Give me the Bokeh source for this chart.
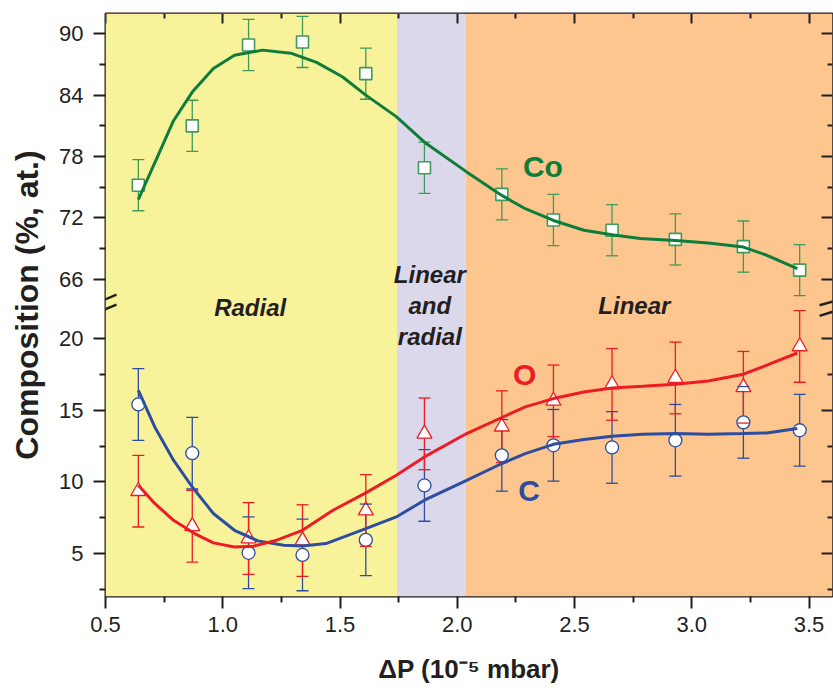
from bokeh.plotting import figure
from bokeh.models import (Range1d, LinearAxis, FixedTicker, ColumnDataSource,
                          Label, Arrow, PrintfTickFormatter, CustomJSTickFormatter)
from bokeh.embed import file_html
from bokeh.resources import INLINE

# ---------------- data ----------------
dp = [0.64, 0.87, 1.11, 1.34, 1.61, 1.86, 2.19, 2.41, 2.66, 2.93, 3.22, 3.46]

co = [75.2, 81.0, 88.9, 89.2, 86.1, 76.9, 74.3, 71.8, 70.8, 69.9, 69.2, 66.9]
co_err = [2.5, 2.5, 2.5, 2.5, 2.5, 2.5, 2.5, 2.5, 2.5, 2.5, 2.5, 2.5]

o = [9.35, 6.9, 6.05, 5.9, 8.0, 13.35, 13.85, 15.65, 16.8, 17.25, 16.6, 19.45]
o_err = [2.5, 2.5, 2.5, 2.5, 2.5, 2.5, 2.5, 2.5, 2.5, 2.5, 2.5, 2.5]

c = [15.4, 12.0, 5.05, 4.9, 5.95, 9.75, 11.85, 12.55, 12.4, 12.9, 14.15, 13.6]
c_err = [2.5, 2.5, 2.5, 2.5, 2.5, 2.5, 2.5, 2.5, 2.5, 2.5, 2.5, 2.5]

co_fit_x = [0.64, 0.72, 0.79, 0.87, 0.96, 1.05, 1.17, 1.29, 1.40, 1.51, 1.61, 1.74,
            1.86, 2.04, 2.19, 2.29, 2.41, 2.54, 2.66, 2.78, 2.93, 3.07, 3.22, 3.32, 3.45]
co_fit_y = [73.8, 77.9, 81.5, 84.3, 86.6, 87.9, 88.4, 88.1, 87.2, 85.8, 84.0, 81.9,
            79.4, 76.5, 74.2, 72.9, 71.75, 70.8, 70.35, 70.0, 69.8, 69.55, 69.15, 68.35, 67.05]

o_fit_x = [0.64, 0.71, 0.79, 0.88, 0.96, 1.05, 1.13, 1.23, 1.34, 1.47, 1.61, 1.74,
           1.86, 2.04, 2.19, 2.29, 2.41, 2.54, 2.66, 2.79, 2.93, 3.07, 3.22, 3.32, 3.45]
o_fit_y = [9.76, 8.49, 7.32, 6.39, 5.74, 5.46, 5.51, 5.93, 6.62, 8.02, 9.23, 10.46,
           11.74, 13.37, 14.49, 15.23, 15.81, 16.27, 16.55, 16.67, 16.81, 17.04, 17.51, 18.14, 18.99]

c_fit_x = [0.64, 0.71, 0.79, 0.87, 0.96, 1.05, 1.15, 1.26, 1.34, 1.44, 1.61, 1.74,
           1.86, 2.04, 2.19, 2.29, 2.41, 2.54, 2.66, 2.79, 2.93, 3.07, 3.22, 3.32, 3.45]
c_fit_y = [16.39, 13.83, 11.51, 9.64, 7.79, 6.62, 5.88, 5.58, 5.53, 5.69, 6.74, 7.55,
           8.72, 10.11, 11.28, 11.97, 12.62, 12.95, 13.18, 13.32, 13.37, 13.32, 13.37, 13.41, 13.72]

band_names = ["Radial", "Linear and radial", "Linear"]
band_left = [0.5, 1.743, 2.036]
band_right = [1.743, 2.036, 3.6]

x_ticks = [0.5, 1.0, 1.5, 2.0, 2.5, 3.0, 3.5]
x_minor = [0.75, 1.25, 1.75, 2.25, 2.75, 3.25]
lo_ticks = [5, 10, 15, 20]
lo_minor = [2.5, 7.5, 12.5, 17.5]
hi_ticks = [66, 72, 78, 84, 90]
hi_minor = [69, 75, 81, 87]

# ---------------- style ----------------
FONT = "Liberation Sans"
INK = "#231f20"
band_colors = ["#f8f39a", "#dbd8ec", "#fcc68e"]
GREEN, GREEN_M = "#0e7d3c", "#3f9a5c"
RED = "#ed1c24"
BLUE = "#2e4d9f"

X_START, X_END = 0.5, 3.6
LO_START, LO_END = 2.0, 42.68      # lower (C, O) scale over the whole frame
HI_START, HI_END = 35.0, 91.98     # upper (Co) scale over the whole frame
BREAK_LO = 22.5                    # top of the lower part, in lower units


def hi_to_lo(v):
    return LO_START + (v - HI_START) * (LO_END - LO_START) / (HI_END - HI_START)


p = figure(width=833, height=688, output_backend="svg", toolbar_location=None,
           x_range=Range1d(X_START, X_END), y_range=Range1d(LO_START, LO_END),
           min_border_left=105, min_border_right=1, min_border_top=13, min_border_bottom=92,
           background_fill_color="white", border_fill_color="white")
p.extra_y_ranges = {"hi": Range1d(HI_START, HI_END)}
p.grid.visible = False
p.outline_line_color = INK
p.outline_line_width = 2

band_src = ColumnDataSource(dict(left=band_left, right=band_right, color=band_colors, name=band_names))
p.quad(left="left", right="right", bottom=LO_START, top=LO_END, fill_color="color",
       line_color=None, source=band_src)


def style_axis(ax, t_in, t_out, m_in, m_out, labels=True):
    ax.axis_line_color = None
    ax.major_tick_line_color = INK
    ax.minor_tick_line_color = INK
    ax.major_tick_line_width = 2
    ax.minor_tick_line_width = 2
    ax.major_tick_in, ax.major_tick_out = t_in, t_out
    ax.minor_tick_in, ax.minor_tick_out = m_in, m_out
    ax.major_label_text_font = FONT
    ax.major_label_text_font_size = "22px"
    ax.major_label_text_color = INK if labels else None
    ax.axis_label_text_font = FONT
    ax.axis_label_text_font_style = "bold"
    ax.axis_label_text_color = INK


xb = p.xaxis[0]
xb.ticker = FixedTicker(ticks=x_ticks, minor_ticks=x_minor)
xb.formatter = PrintfTickFormatter(format="%.1f")
style_axis(xb, 0, 12, 0, 6)
xb.major_label_standoff = 8
xb.axis_label = "ΔP (10⁻⁵ mbar)"
xb.axis_label_text_font_size = "26px"
xb.axis_label_standoff = 19

# left axis: one axis carrying both parts of the broken scale
yl = p.yaxis[0]
yl.ticker = FixedTicker(ticks=lo_ticks + [hi_to_lo(v) for v in hi_ticks],
                        minor_ticks=lo_minor + [hi_to_lo(v) for v in hi_minor])
yl.formatter = CustomJSTickFormatter(
    args=dict(lo0=LO_START, lo1=LO_END, hi0=HI_START, hi1=HI_END, cut=BREAK_LO),
    code="""
    if (tick <= cut) { return tick.toFixed(0) }
    const v = hi0 + (tick - lo0) * (hi1 - hi0) / (lo1 - lo0)
    return Math.round(v).toFixed(0)
    """)
style_axis(yl, 0, 12, 0, 6)
yl.major_label_standoff = 10
yl.axis_label = "Composition (%, at.)"
yl.axis_label_text_font_size = "32px"
yl.axis_label_standoff = 11

for rname, tk, mn in (("default", lo_ticks, lo_minor), ("hi", hi_ticks, hi_minor)):
    ar = LinearAxis(y_range_name=rname, fixed_location=X_END,
                    ticker=FixedTicker(ticks=tk, minor_ticks=mn))
    style_axis(ar, 11, 0, 5, 0, labels=False)
    p.add_layout(ar, "right")

xt = LinearAxis(fixed_location=LO_END, ticker=FixedTicker(ticks=x_ticks, minor_ticks=x_minor))
style_axis(xt, 10, 0, 5, 0, labels=False)
p.add_layout(xt, "above")


def src_for(ys, errs):
    return ColumnDataSource(dict(x=dp, y=ys,
                                 lo=[v - e for v, e in zip(ys, errs)],
                                 hi=[v + e for v, e in zip(ys, errs)]))


s_co = src_for(co, co_err)
s_o = src_for(o, o_err)
s_c = src_for(c, c_err)

# error bar stems
p.segment("x", "lo", "x", "hi", source=s_c, line_color=BLUE, line_width=1.3)
p.segment("x", "lo", "x", "hi", source=s_o, line_color=RED, line_width=1.3)
p.segment("x", "lo", "x", "hi", source=s_co, line_color=GREEN_M, line_width=1.3, y_range_name="hi")

# markers
p.scatter("x", "y", source=s_c, marker="circle", size=13, fill_color="white",
          line_color=BLUE, line_width=1.3)
p.scatter("x", "y", source=s_o, marker="triangle", size=15, fill_color="white",
          line_color=RED, line_width=1.3)
p.scatter("x", "y", source=s_co, marker="square", size=12, fill_color="white",
          line_color=GREEN_M, line_width=1.6, y_range_name="hi")

# error bar caps
for s, col, rn in ((s_c, BLUE, "default"), (s_o, RED, "default"), (s_co, GREEN_M, "hi")):
    p.scatter("x", "lo", source=s, marker="dash", size=12, line_color=col, line_width=1.3, y_range_name=rn)
    p.scatter("x", "hi", source=s, marker="dash", size=12, line_color=col, line_width=1.3, y_range_name=rn)

# fitted curves
p.line(c_fit_x, c_fit_y, line_color=BLUE, line_width=3)
p.line(o_fit_x, o_fit_y, line_color=RED, line_width=3)
p.line(co_fit_x, co_fit_y, line_color=GREEN, line_width=3, y_range_name="hi")

# element labels
for txt, xx, yy, col, rn in (("Co", 2.365, 77.06, GREEN, "hi"), ("O", 2.287, 17.5, RED, "default"),
                             ("C", 2.306, 9.41, BLUE, "default")):
    p.add_layout(Label(x=xx, y=yy, y_range_name=rn, text=txt, text_align="center",
                       text_baseline="middle", text_font=FONT, text_font_style="bold",
                       text_font_size="30px", text_color=col))

# region labels
for txt, xx, yy in (("Radial", 1.117, 22.18), ("Linear", 1.883, 24.49), ("and", 1.883, 22.33),
                    ("radial", 1.883, 20.11), ("Linear", 2.755, 22.28)):
    p.add_layout(Label(x=xx, y=yy, text=txt, text_align="center", text_baseline="middle",
                       text_font=FONT, text_font_style="bold italic", text_font_size="24px",
                       text_color=INK))

# axis break marks
for x0, x1, ya, yb in ((0.449, 0.547, 22.39, 23.06), (0.449, 0.547, 21.70, 22.36),
                       (3.545, 3.62, 22.32, 22.67), (3.545, 3.62, 21.58, 21.97)):
    p.add_layout(Arrow(end=None, x_start=x0, y_start=ya, x_end=x1, y_end=yb,
                       line_color=INK, line_width=2.5))

open("out.html", "w").write(file_html(p, INLINE))
